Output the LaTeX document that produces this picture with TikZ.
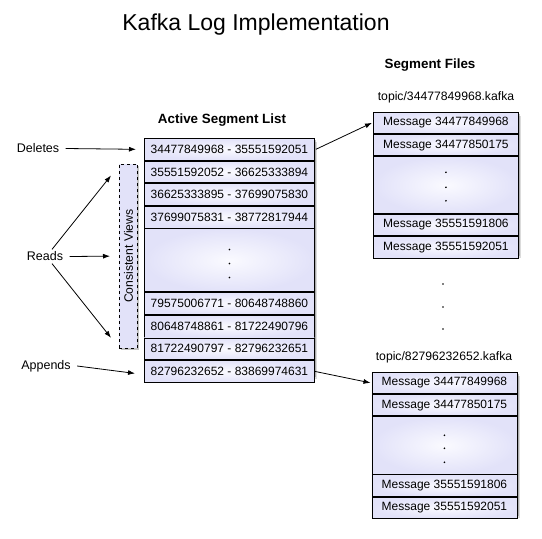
\documentclass[tikz,border=0pt]{standalone}
\usepackage{fontspec}
\setmainfont{Liberation Sans}
\usetikzlibrary{arrows.meta,shadows}
\definecolor{lavout}{RGB}{226,226,249}
\definecolor{lavin}{RGB}{250,250,255}
\definecolor{shadowc}{RGB}{60,60,60}
\tikzset{
  cell/.style={draw, line width=0.9pt, inner color=lavin, outer color=lavout,
    anchor=north west, inner sep=0pt, font=\fontsize{12}{14}\selectfont},
  acell/.style={cell, minimum width=170pt, minimum height=21.7pt},
  adots/.style={cell, minimum width=170pt, minimum height=63pt},
  fcell/.style={cell, minimum width=145pt, minimum height=21.4pt},
  fdots/.style={cell, minimum width=145pt, minimum height=56.6pt},
  shadowbox/.style={fill=white,
    drop shadow={shadow xshift=3pt, shadow yshift=-4pt, opacity=0.18, fill=shadowc},
    drop shadow={shadow xshift=2pt, shadow yshift=-2pt, opacity=0.3, fill=shadowc}},
  lbl/.style={font=\fontsize{12.5}{15}\selectfont},
  arr/.style={-{Latex[length=7pt,width=5pt]}, line width=0.8pt},
  dot/.style={fill=black, circle, inner sep=0pt, minimum size=1.8pt},
  txt/.style={font=\fontsize{12.2}{14}\selectfont}
}
\begin{document}
\begin{tikzpicture}[x=1pt,y=-1pt]
\useasboundingbox[fill=white] (0,0) rectangle (542,539);
% titles
\node[font=\fontsize{23}{27}\selectfont] (title) at (256,25) {Kafka Log Implementation};
\node[font=\bfseries\fontsize{13.4}{16}\selectfont] (segtitle) at (430,65) {Segment Files};
\node[font=\bfseries\fontsize{13.4}{16}\selectfont] (acttitle) at (222,120) {Active Segment List};
\node[txt] (t1) at (446,97) {topic/34477849968.kafka};
\node[txt] (t2) at (444,357) {topic/82796232652.kafka};

% active segment list
\path[shadowbox] (144,138) rectangle (314,374.5);
\node[acell] (r1) at (144,138) {34477849968 - 35551592051};
\node[acell] (r2) at (r1.south west) {35551592052 - 36625333894};
\node[acell] (r3) at (r2.south west) {36625333895 - 37699075830};
\node[acell] (r4) at (r3.south west) {37699075831 - 38772817944};
\node[adots] (rd) at (r4.south west) {};
\node[acell] (r5) at (rd.south west) {79575006771 - 80648748860};
\node[acell] (r6) at (r5.south west) {80648748861 - 81722490796};
\node[acell] (r7) at (r6.south west) {81722490797 - 82796232651};
\node[acell] (r8) at (r7.south west) {82796232652 - 83869974631};
\node[dot] (ad1) at ([yshift=10.8pt]rd.center) {};
\node[dot] (ad2) at ([yshift=-3.2pt]rd.center) {};
\node[dot] (ad3) at ([yshift=-17.2pt]rd.center) {};

% segment file 1
\path[shadowbox] (373,111.7) rectangle (518,253.7);
\node[fcell] (f1a) at (373,111.7) {Message 34477849968};
\node[fcell] (f1b) at (f1a.south west) {Message 34477850175};
\node[fdots] (f1d) at (f1b.south west) {};
\node[fcell] (f1c) at (f1d.south west) {Message 35551591806};
\node[fcell] (f1e) at (f1c.south west) {Message 35551592051};
\node[dot] (f1d1) at ([yshift=-16pt]f1d.north) {};
\node[dot] (f1d2) at ([yshift=-31pt]f1d.north) {};
\node[dot] (f1d3) at ([yshift=-44.5pt]f1d.north) {};

% segment file 2
\path[shadowbox] (371.5,371.7) rectangle (516.5,514.3);
\node[fcell] (f2a) at (371.5,371.7) {Message 34477849968};
\node[fcell] (f2b) at (f2a.south west) {Message 34477850175};
\node[fdots, minimum height=57.2pt] (f2d) at (f2b.south west) {};
\node[fcell] (f2c) at (f2d.south west) {Message 35551591806};
\node[fcell] (f2e) at (f2c.south west) {Message 35551592051};
\node[dot] (f2d1) at ([yshift=-19pt]f2d.north) {};
\node[dot] (f2d2) at ([yshift=-32pt]f2d.north) {};
\node[dot] (f2d3) at ([yshift=-46pt]f2d.north) {};

% dots between files
\node[dot] (m1) at (443,284) {};
\node[dot] (m2) at (443,307) {};
\node[dot] (m3) at (443,329) {};

% consistent views
\path[fill=white, drop shadow={shadow xshift=2pt, shadow yshift=-2pt, opacity=0.3, fill=shadowc}] (119,163.5) rectangle (137,348);
\node[draw, dashed, line width=0.8pt, fill=lavout, minimum width=18pt, minimum height=184.5pt,
  inner sep=0pt, anchor=north west] (cv) at (119,163.5) {};
\node[rotate=90, txt] (cvt) at (cv.center) {Consistent Views};

% left labels
\node[lbl] (del) at (38,148.5) {Deletes};
\node[lbl] (reads) at (45,256.5) {Reads};
\node[lbl] (app) at (46,366) {Appends};
\draw[arr] ([xshift=3pt]del.east) -- ([xshift=-8pt]r1.west);
\draw[arr] ([xshift=3pt]reads.east) -- ([xshift=-9pt]cv.west);
\draw[arr] ([xshift=7pt,yshift=-1pt]reads.north) -- ([xshift=-8pt,yshift=-12pt]cv.north west);
\draw[arr] ([xshift=7pt,yshift=1pt]reads.south) -- ([xshift=-8pt,yshift=11pt]cv.south west);
\draw[arr] ([xshift=3pt]app.east) -- ([xshift=-9pt,yshift=-2pt]r8.west);

% connectors to segment files
\draw[arr] ([xshift=1pt]r1.east) -- ([xshift=-1pt]f1a.west);
\draw[arr] ([xshift=0pt]r8.east) -- ([xshift=-1pt]f2a.west);
\end{tikzpicture}
\end{document}
